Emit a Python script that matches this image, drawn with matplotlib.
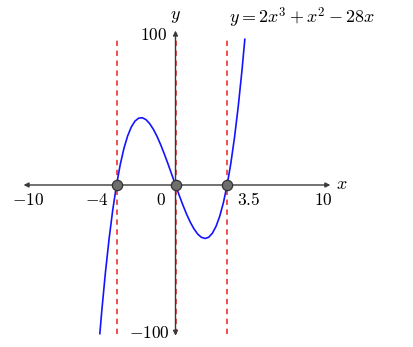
import matplotlib
matplotlib.use("Agg")
import matplotlib.pyplot as plt

plt.rcParams['mathtext.fontset'] = 'cm'
plt.rcParams['font.family'] = 'serif'
plt.rcParams['font.serif'] = ['DejaVu Serif']

xs = [-5.13, -5.0, -4.75, -4.5, -4.25, -4.0, -3.75, -3.5, -3.25, -3.0, -2.75, -2.5,
      -2.25, -2.0, -1.75, -1.5, -1.25, -1.0, -0.75, -0.5, -0.25, 0.0, 0.25, 0.5,
      0.75, 1.0, 1.25, 1.5, 1.75, 2.0, 2.25, 2.5, 2.75, 3.0, 3.25, 3.5, 3.75,
      4.0, 4.25, 4.5, 4.7]
ys = [-100.1, -85.0, -58.8, -36.0, -16.5, 0.0, 13.6, 24.5, 32.9, 39.0, 43.0, 45.0,
      45.3, 44.0, 41.3, 37.5, 32.7, 27.0, 20.7, 14.0, 7.0, 0.0, -6.9, -13.5,
      -19.6, -25.0, -29.5, -33.0, -35.2, -36.0, -35.2, -32.5, -27.8, -21.0, -11.8, 0.0, 14.5,
      32.0, 52.6, 76.5, 98.1]

roots = [-4, 0, 3.5]
xticks = [-10, -4, 0, 3.5, 10]
xtick_labels = [r'$-10$', r'$-4$', r'$0$', r'$3.5$', r'$10$']

fig = plt.figure(figsize=(4.13, 3.47), dpi=100)
ax = fig.add_axes([0, 0, 1, 1])
# pixel mapping: x0=175.5, 14.75 px/unit ; y0=185, 1.485 px/unit
ax.set_xlim(-175.5 / 14.75, (413 - 175.5) / 14.75)
ax.set_ylim(-(347 - 185) / 1.485, 185 / 1.485)
ax.axis('off')

# red dashed verticals
for r in roots:
    ax.plot([r, r], [-100, 100], color='#e8211f', ls=(0, (3.5, 3)), lw=1.1, zorder=1)

# axes with arrows
ax.annotate('', xy=(10.5, 0), xytext=(-10.3, 0),
            arrowprops=dict(arrowstyle='<|-|>', color='#3a3a3a', lw=1.0,
                            mutation_scale=7, shrinkA=0, shrinkB=0), zorder=2)
ax.annotate('', xy=(0, 104), xytext=(0, -101.5),
            arrowprops=dict(arrowstyle='<|-|>', color='#3a3a3a', lw=1.0,
                            mutation_scale=7, shrinkA=0, shrinkB=0), zorder=2)

ax.plot(xs, ys, color='#1414ff', lw=1.2, zorder=3)

ax.scatter(roots, [0, 0, 0], s=55, color='#6e6e6e', edgecolor='#333333',
           linewidth=0.9, zorder=4)

# tick labels
fs = 12.5
offs = {-10: 0, -4: -1.35, 0: -1.0, 3.5: 1.45, 10: 0}
for t, lab in zip(xticks, xtick_labels):
    ax.text(t + offs[t], -10.5, lab, ha='center', va='center', fontsize=fs)
ax.text(-1.45, 100.5, r'$100$', ha='center', va='center', fontsize=fs)
ax.text(-1.75, -100, r'$-100$', ha='center', va='center', fontsize=fs)

ax.text(11.3, 0.5, r'$x$', ha='center', va='center', fontsize=13)
ax.text(0, 114, r'$y$', ha='center', va='center', fontsize=13)
ax.text(8.6, 112.5, r'$y = 2x^3 + x^2 - 28x$', ha='center', va='center', fontsize=13)

fig.savefig('out.png', dpi=100)
